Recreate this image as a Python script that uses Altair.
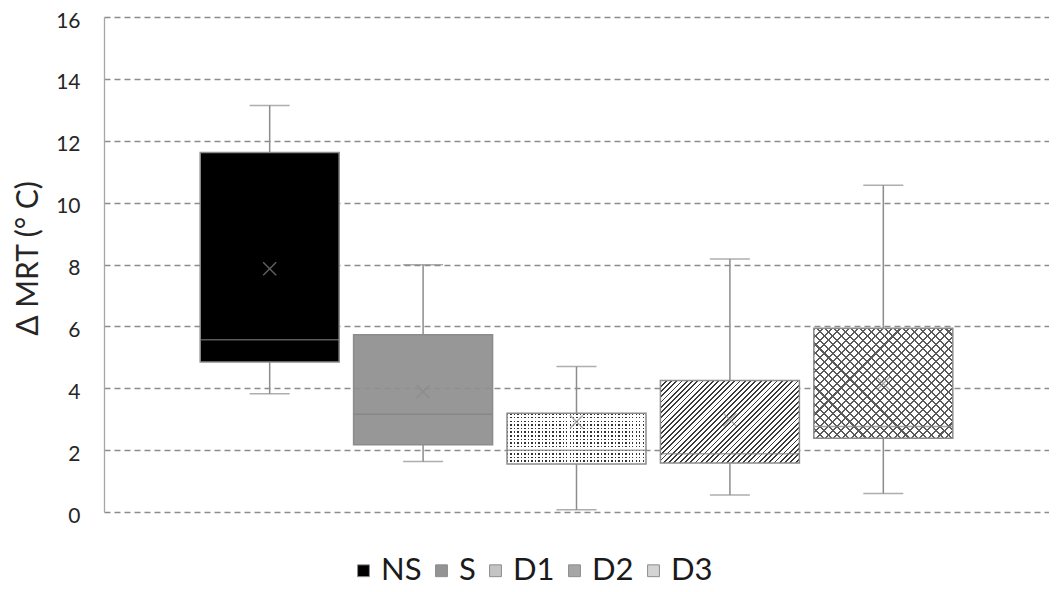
import altair as alt
import pandas as pd

series = ["NS", "S", "D1", "D2", "D3"]
low = [3.82, 1.63, 0.07, 0.55, 0.60]
q1 = [4.85, 2.17, 1.55, 1.58, 2.38]
median = [5.57, 3.16, 2.00, 1.88, 2.76]
q3 = [11.62, 5.73, 3.19, 4.25, 5.94]
high = [13.14, 7.99, 4.70, 8.18, 10.56]
mean = [7.86, 3.89, 2.92, 2.98, 4.15]
legend_colors = ["#000000", "#939393", "#c4c4c4", "#a6a6a6", "#d4d4d4"]
y_title = "Δ MRT (° C)"

df = pd.DataFrame({"series": series, "low": low, "q1": q1, "median": median,
                   "q3": q3, "high": high, "mean": mean})

W, H, YMAX = 945, 495, 16
PI, PO = 0.094, 0.627
STEP = W / (len(series) - PI + 2 * PO)
BW = STEP * (1 - PI)
PX = H / YMAX
GRAY = "#8c8c8c"
FONT = "Lato"


def _stops(n, frac, line_color, bg_color):
    stops = []
    for i in range(n):
        a = round(i / n, 6)
        b = round((i + frac) / n, 6)
        c = round((i + 1) / n, 6)
        stops += [{"offset": a, "color": line_color}, {"offset": b, "color": line_color},
                  {"offset": b, "color": bg_color}, {"offset": c, "color": bg_color}]
    return stops


def diag_grad(w, h, direction, period, frac, line_color, bg_color):
    k = (w + h) * w / (w * w + h * h)
    n = max(1, round((w + h) / period))
    if direction == "/":
        x1, y1, x2, y2 = 0, 0, k, k * h / w
    else:
        x1, y1, x2, y2 = 0, 1, k, 1 - k * h / w
    return {"gradient": "linear", "x1": x1, "y1": y1, "x2": x2, "y2": y2,
            "stops": _stops(n, frac, line_color, bg_color)}


def axis_grad(length, direction, period, frac, line_color, bg_color):
    n = max(1, round(length / period))
    if direction == "v":
        x1, y1, x2, y2 = 0, 0, 1, 0
    else:
        x1, y1, x2, y2 = 0, 0, 0, 1
    return {"gradient": "linear", "x1": x1, "y1": y1, "x2": x2, "y2": y2,
            "stops": _stops(n, frac, line_color, bg_color)}


def box_h(name):
    i = series.index(name)
    return (q3[i] - q1[i]) * PX


xenc = alt.X("series:N", sort=series,
             scale=alt.Scale(domain=series, paddingInner=PI, paddingOuter=PO), axis=None)
yscale = alt.Scale(domain=[0, YMAX])
yaxis = alt.Axis(values=list(range(0, 17, 2)), grid=True, gridDash=[6, 4], gridColor="#8c8c8c",
                 gridWidth=1.3, domain=True, domainColor="#a6a6a6", domainWidth=1.3, ticks=False,
                 labelFontSize=21, labelFont=FONT, labelColor="#262626", labelPadding=24,
                 labelOffset=4,
                 titleFontSize=30, titleFont=FONT, titleFontWeight="normal", titleColor="#262626",
                 titleX=-61, titleY=241)


def Y(field):
    return alt.Y(field, type="quantitative", scale=yscale, axis=yaxis, title=y_title)


base = alt.Chart(df).encode(x=xenc)

wl = base.mark_rule(color=GRAY, strokeWidth=1.5).encode(y=Y("low"), y2="q1:Q")
wh = base.mark_rule(color=GRAY, strokeWidth=1.5).encode(y=Y("q3"), y2="high:Q")
cap_lo = base.mark_tick(size=40, thickness=1.5, color=GRAY).encode(y=Y("low"))
cap_hi = base.mark_tick(size=40, thickness=1.5, color=GRAY).encode(y=Y("high"))


def box(name, **mark):
    return base.transform_filter(alt.datum.series == name).mark_bar(**mark).encode(
        y=Y("q1"), y2="q3:Q")


T = "rgba(255,255,255,0)"
T0 = "rgba(0,0,0,0)"
layers = [wl, wh, cap_lo, cap_hi,
          box("NS", fill="#000000"),
          box("S", fill="#8f8f8f", fillOpacity=0.93),
          box("D1", fill="#333333"),
          box("D1", fill=axis_grad(BW, "v", 3.5, 0.4, T, "#ffffff")),
          box("D1", fill=axis_grad(box_h("D1"), "h", 3.5, 0.4, T, "#ffffff")),
          box("D2", fill=diag_grad(BW, box_h("D2"), "/", 5.3, 0.35, "#3a3a3a", "#ffffff")),
          box("D3", fill="#ffffff"),
          box("D3", fill=diag_grad(BW, box_h("D3"), "/", 8.5, 0.24, "#5a5a5a", T0)),
          box("D3", fill=diag_grad(BW, box_h("D3"), "\\", 8.5, 0.24, "#5a5a5a", T0)),
          ]

outline = base.mark_bar(fillOpacity=0, stroke=GRAY, strokeWidth=1.5).encode(
    y=Y("q1"), y2="q3:Q")
med = base.mark_tick(size=BW, thickness=1.5, color="#808080").encode(y=Y("median"))
mn = base.mark_point(shape="M-1,-1L1,1M-1,1L1,-1", size=170, filled=False,
                     strokeWidth=1.4, color="#8a8a8a").encode(y=Y("mean"))
leg = base.mark_point(opacity=0, filled=True, shape="square").encode(
    y=Y("median"),
    color=alt.Color("series:N", sort=series,
                    scale=alt.Scale(domain=series, range=legend_colors),
                    legend=alt.Legend(title=None, orient="none", legendX=244, legendY=538,
                                      direction="horizontal", symbolType="square",
                                      symbolSize=140, symbolStrokeColor=GRAY,
                                      symbolStrokeWidth=1, symbolOpacity=1,
                                      labelFontSize=31, labelFont=FONT, labelColor="#1a1a1a",
                                      columnPadding=4, labelOffset=2)))

chart = alt.layer(*layers, outline, med, mn, leg).properties(
    width=W, height=H,
    autosize=alt.AutoSizeParams(type="none"),
    padding={"left": 96, "top": 9, "right": 0, "bottom": 76},
).configure_view(strokeWidth=0)

chart.save("out.html", embed_options={"renderer": "svg", "actions": False})
